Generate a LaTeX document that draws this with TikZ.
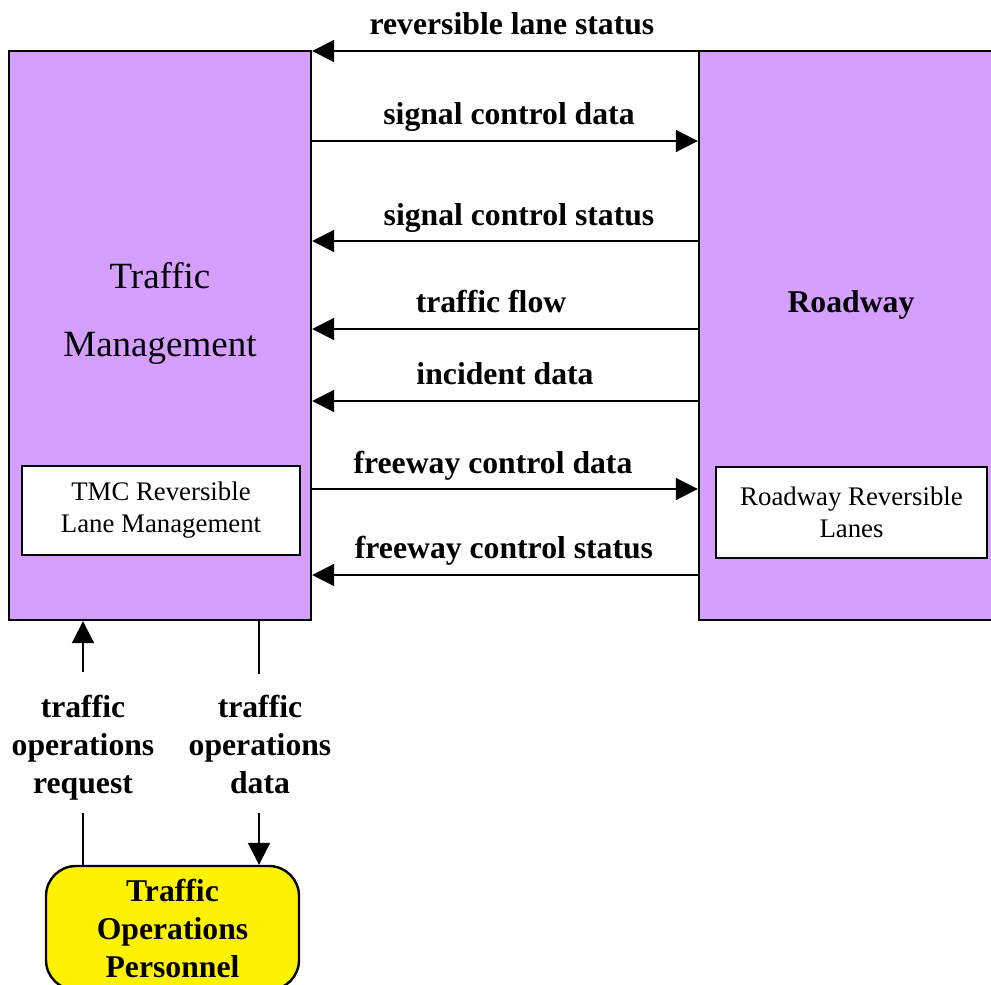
\documentclass[tikz,border=0pt]{standalone}
\usepackage{fontspec}
\setmainfont{Liberation Serif}
\usetikzlibrary{arrows.meta, positioning}
\definecolor{termpurple}{RGB}{212,159,255}

\begin{document}
\begin{tikzpicture}[x=0.5pt, y=-0.5pt,
    entity/.style={rectangle, draw, line width=1.2pt, fill=termpurple, inner sep=0pt},
    subsys/.style={rectangle, draw, line width=1.2pt, fill=white, align=center, inner sep=0pt, font=\fontsize{13.4pt}{16pt}\selectfont},
    flow/.style={-{Triangle[length=11pt,width=11pt]}, line width=1pt},
    flowlabel/.style={font=\fontsize{15.85pt}{19pt}\selectfont\bfseries, anchor=base, inner sep=0pt},
    botlabel/.style={font=\fontsize{15.85pt}{19pt}\selectfont\bfseries, align=center, anchor=north, inner sep=0pt}
  ]
  \useasboundingbox (0,0) rectangle (991,985);
  \clip (0,0) rectangle (991,985);

  % Terminators
  \node[entity, minimum width=151pt, minimum height=284.5pt] (tm) at (160,335.5) {};
  \node[entity, minimum width=155pt, minimum height=284.5pt] (rw) at (854,335.5) {};
  \node[font=\fontsize{18.5pt}{34pt}\selectfont, align=center, inner sep=0pt] (tmname) at (160,313.5) {Traffic\\Management};
  \node[font=\fontsize{15.85pt}{19pt}\selectfont\bfseries, anchor=base, inner sep=0pt] (rwname) at (851,312) {Roadway};

  % Equipment packages
  \node[subsys, minimum width=139pt, minimum height=44.5pt] (tmcrl) at (161,510.5) {TMC Reversible\\Lane Management};
  \node[subsys, minimum width=135.5pt, minimum height=45.5pt] (rwrl) at (851.5,512.5) {Roadway Reversible\\Lanes};

  % Flows into Traffic Management
  \foreach \y/\txt/\lx/\ly in {51/reversible lane status/512/34,
                               241/signal control status/519/225,
                               329/traffic flow/491/312,
                               401/incident data/505/384,
                               575/freeway control status/504/558} {
    \draw[flow] (rw.west |- 0,\y) -- (tm.east |- 0,\y);
    \node[flowlabel] (in\y) at (\lx,\ly) {\txt};
  }

  % Flows out of Traffic Management
  \foreach \y/\txt/\lx/\ly in {141/signal control data/509/124,
                               489/freeway control data/493/473} {
    \draw[flow] (tm.east |- 0,\y) -- (rw.west |- 0,\y);
    \node[flowlabel] (out\y) at (\lx,\ly) {\txt};
  }

  % Operator
  \node[draw, fill=yellow, line width=1.2pt, rounded corners=15pt, minimum width=126.5pt, minimum height=62pt,
        align=center, inner sep=0pt, font=\fontsize{15.85pt}{19pt}\selectfont\bfseries] (tops) at (172.5,928) {Traffic\\Operations\\Personnel};

  \node[botlabel] (opsreq) at (83,695) {traffic\\operations\\request};
  \node[botlabel] (opsdata) at (260,695) {traffic\\operations\\data};

  \draw[line width=1pt, shorten <=6pt] (opsreq.south) -- (tops.north -| opsreq.south);
  \draw[flow, shorten <=11.5pt] (opsreq.north) -- (tm.south -| opsreq.north);
  \draw[line width=1pt, shorten <=10.5pt] (opsdata.north -| 259,0) -- (tm.south -| 259,0);
  \draw[flow, shorten <=9.5pt] (opsdata.south -| 259,0) -- (tops.north -| 259,0);
\end{tikzpicture}
\end{document}
